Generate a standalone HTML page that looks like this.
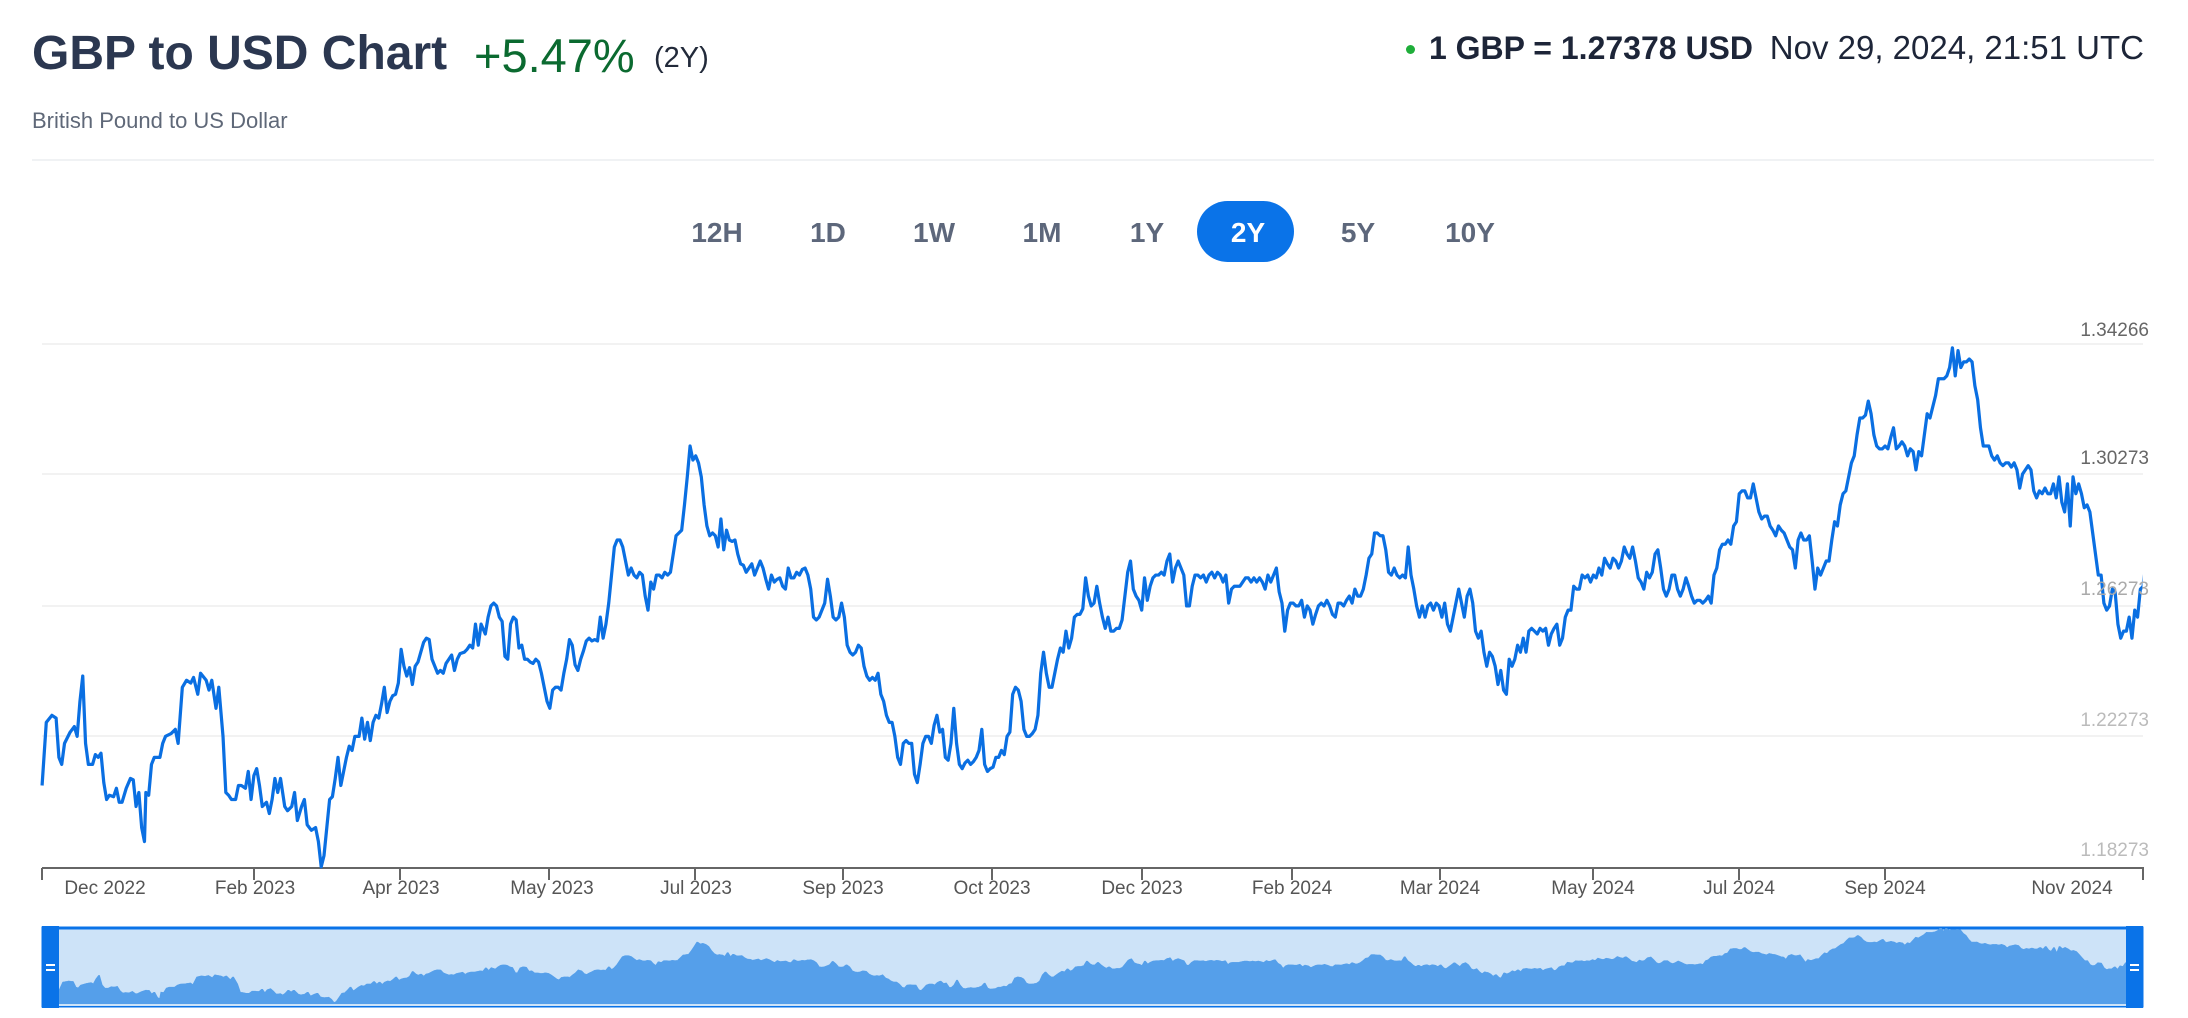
<!DOCTYPE html>
<html><head><meta charset="utf-8"><style>
html,body{margin:0;padding:0;background:#fff;overflow:hidden;}
body{width:2188px;height:1018px;position:relative;overflow:hidden;font-family:"Liberation Sans",sans-serif;}
.a{position:absolute;white-space:nowrap;}
.btn{position:absolute;top:233px;transform:translate(-50%,-50%);font-size:28px;font-weight:bold;color:#5d677b;}
.yl{position:absolute;right:39px;font-size:19px;transform:translateY(-50%);}
.ml{position:absolute;top:889px;transform:translate(-50%,-50%);font-size:19px;color:#555;white-space:nowrap;}
</style></head><body>
<div class="a" style="left:32px;top:26px;font-size:48px;font-weight:bold;color:#2b3750;">GBP to USD Chart</div>
<div class="a" style="left:474px;top:28px;font-size:47px;color:#0b6a30;">+5.47%</div>
<div class="a" style="left:654px;top:42px;font-size:29px;color:#222a3a;">(2Y)</div>
<div class="a" style="left:32px;top:108px;font-size:22px;color:#5f6878;">British Pound to US Dollar</div>
<div class="a" style="left:32px;top:159px;width:2122px;height:2px;background:#f0f2f4;"></div>
<div class="a" style="left:1406px;top:45px;width:9px;height:9px;border-radius:50%;background:#1fae3a;"></div>
<div class="a" style="right:435px;top:30px;font-size:32px;font-weight:bold;color:#1d2538;">1 GBP = 1.27378 USD</div>
<div class="a" style="right:44px;top:29px;font-size:33px;color:#1d2538;">Nov 29, 2024, 21:51 UTC</div>
<div class="btn" style="left:717px">12H</div>
<div class="btn" style="left:828px">1D</div>
<div class="btn" style="left:934px">1W</div>
<div class="btn" style="left:1042px">1M</div>
<div class="btn" style="left:1147px">1Y</div>
<div class="a" style="left:1197px;top:201px;width:97px;height:61px;border-radius:31px;background:#0a73e8;"></div>
<div class="btn" style="left:1248px;color:#fff;">2Y</div>
<div class="btn" style="left:1358px">5Y</div>
<div class="btn" style="left:1470px">10Y</div>

<svg class="a" style="left:0;top:0" width="2188" height="1018">
<g stroke="#f2f2f2" stroke-width="2">
<line x1="42" y1="344" x2="2143" y2="344"/><line x1="42" y1="474" x2="2143" y2="474"/>
<line x1="42" y1="606" x2="2143" y2="606"/><line x1="42" y1="736" x2="2143" y2="736"/>
</g>
<g stroke="#666" stroke-width="2" fill="none">
<line x1="42" y1="868" x2="2144" y2="868"/>
<line x1="42" y1="868" x2="42" y2="880"/><line x1="254" y1="868" x2="254" y2="880"/>
<line x1="400" y1="868" x2="400" y2="880"/><line x1="549" y1="868" x2="549" y2="880"/>
<line x1="695" y1="868" x2="695" y2="880"/><line x1="843" y1="868" x2="843" y2="880"/>
<line x1="992" y1="868" x2="992" y2="880"/><line x1="1142" y1="868" x2="1142" y2="880"/>
<line x1="1292" y1="868" x2="1292" y2="880"/><line x1="1440" y1="868" x2="1440" y2="880"/>
<line x1="1593" y1="868" x2="1593" y2="880"/><line x1="1739" y1="868" x2="1739" y2="880"/>
<line x1="1885" y1="868" x2="1885" y2="880"/><line x1="2143" y1="868" x2="2143" y2="880"/>
</g>
<defs>
<clipPath id="nc"><rect x="43" y="928" width="2099" height="78"/></clipPath>
<clipPath id="mc"><rect x="0" y="300" width="2142.5" height="569"/></clipPath>
<polyline id="pl" points="30,560 33,515 37,510 40,512 42,540 44,545 46,530 50,522 53,518 55,525 57,500 59,482 61,530 63,545 66,545 68,538 70,540 72,537 74,558 76,570 78,567 81,568 83,562 85,572 87,572 90,562 93,555 95,556 97,575 99,565 101,590 103,600 104,565 106,567 108,545 110,540 114,540 116,530 118,525 122,523 125,520 127,530 130,490 133,485 136,487 138,483 141,495 143,480 147,485 149,492 151,485 154,505 156,490 159,525 161,565 163,567 165,570 168,570 170,560 172,560 175,562 177,550 179,570 181,553 183,548 185,560 187,575 190,572 192,580 194,570 196,555 198,565 200,555 203,575 205,578 208,575 210,565 212,585 215,575 217,570 219,588 222,592 225,590 227,600 229,618 231,610 233,590 235,570 237,568 239,555 241,540 243,560 245,550 247,540 249,532 251,535 253,525 256,525 258,512 260,527 262,515 264,528 266,515 268,510 270,512 272,502 274,490 276,508 278,500 280,496 282,495 284,487 286,463 288,475 290,482 292,476 294,488 296,475 298,472 300,465 302,458 304,455 306,456 308,470 310,475 312,480 314,478 316,480 318,473 320,470 322,467 324,478 326,470 328,466 331,465 333,463 335,460 337,462 339,445 341,460 343,445 346,452 348,440 350,432 352,430 354,432 356,440 358,443 360,468 362,470 364,445 366,440 368,442 370,462 372,460 374,470 376,470 378,472 380,473 382,470 384,472 386,480 388,490 390,500 392,505 394,492 396,490 398,490 400,492 402,480 404,470 406,456 408,460 410,474 412,478 414,470 416,464 418,457 420,455 422,457 424,456 426,457 428,440 430,455 432,445 434,430 436,410 438,390 440,385 442,385 444,390 446,400 448,410 450,405 452,410 454,412 456,408 458,410 460,425 462,435 464,415 466,420 468,410 470,410 472,412 474,408 476,410 478,408 480,395 482,382 484,380 486,378 488,360 490,340 492,318 494,328 496,325 498,330 500,340 502,360 504,375 506,382 508,380 510,382 512,390 514,370 516,392 518,378 520,385 522,386 524,385 526,395 528,402 530,403 532,408 534,405 536,402 538,410 540,405 542,400 544,405 546,413 548,420 550,410 552,415 554,413 556,412 558,418 560,420 562,405 564,412 566,412 568,408 570,410 572,406 574,405 576,410 578,420 580,440 582,442 584,440 586,435 588,430 590,413 592,425 594,440 596,442 598,440 600,430 602,440 604,460 606,465 608,467 610,465 612,460 614,462 616,475 618,482 620,485 622,483 624,485 626,480 628,495 630,500 632,510 634,515 636,515 638,525 640,540 642,545 644,530 646,528 648,530 650,530 652,552 654,558 656,545 658,530 660,525 662,525 664,530 666,517 668,510 670,522 672,520 674,540 676,542 678,530 680,505 682,530 684,545 686,548 688,544 690,542 692,545 694,543 696,540 698,535 700,520 702,545 704,550 706,548 708,547 710,540 712,540 714,535 716,538 718,525 720,522 722,495 724,490 726,492 728,500 730,520 732,525 734,525 736,523 738,520 740,510 742,480 744,465 746,480 748,490 750,490 752,480 754,470 756,462 758,465 760,450 762,462 764,455 766,440 768,438 770,438 772,434 774,412 776,425 778,432 780,430 782,418 784,430 786,440 788,448 790,440 792,450 794,450 796,448 798,448 800,442 802,425 804,408 806,400 808,420 810,425 812,428 814,435 816,412 818,428 820,418 822,412 824,410 826,410 828,408 830,410 832,400 834,395 836,415 838,405 840,400 842,405 844,410 846,432 848,432 850,418 852,410 854,410 856,412 858,410 860,415 862,410 864,408 866,412 868,408 870,410 872,415 874,410 876,430 878,420 880,418 882,418 884,418 886,415 888,412 890,412 892,415 894,412 896,415 898,412 900,415 902,420 904,410 906,415 908,410 910,405 912,422 914,430 916,450 918,435 920,430 922,430 924,432 926,432 928,428 930,440 932,432 934,435 936,445 938,438 940,432 942,430 944,432 946,428 948,432 950,438 952,440 954,430 956,430 958,432 960,428 962,425 964,430 966,420 968,425 970,425 972,420 974,410 976,398 978,395 980,380 982,380 984,382 986,382 988,392 990,408 992,410 994,405 996,410 998,412 1000,410 1002,412 1004,390 1006,410 1008,420 1010,432 1012,440 1014,432 1016,440 1018,432 1020,430 1022,435 1024,430 1026,432 1028,440 1030,430 1032,445 1034,450 1036,440 1038,430 1040,420 1042,430 1044,440 1046,425 1048,420 1050,430 1052,450 1054,455 1056,450 1058,465 1060,475 1062,465 1064,468 1066,475 1068,488 1070,478 1072,492 1074,495 1076,470 1078,475 1080,470 1082,460 1084,465 1086,455 1088,465 1090,450 1092,448 1094,450 1096,452 1098,448 1100,450 1102,448 1104,460 1106,452 1108,448 1110,445 1112,460 1114,455 1116,440 1118,435 1120,435 1122,418 1124,420 1126,420 1128,410 1130,412 1132,410 1134,415 1136,410 1138,412 1140,405 1142,410 1144,398 1146,402 1148,405 1150,398 1152,400 1154,405 1156,400 1158,390 1160,395 1162,398 1164,390 1166,400 1168,412 1170,415 1172,420 1174,408 1176,412 1178,408 1180,395 1182,392 1184,405 1186,420 1188,425 1190,420 1192,410 1194,410 1196,420 1198,425 1200,420 1202,412 1204,418 1206,425 1208,430 1210,428 1212,428 1214,430 1216,428 1218,425 1220,430 1222,410 1224,405 1226,392 1228,388 1230,388 1232,385 1234,388 1236,375 1238,372 1240,352 1242,350 1244,350 1246,355 1248,355 1250,345 1252,355 1254,365 1256,370 1258,368 1260,368 1262,375 1264,378 1266,382 1268,375 1270,378 1272,380 1274,385 1276,390 1278,392 1280,405 1282,385 1284,380 1286,385 1288,385 1290,382 1292,400 1294,420 1296,405 1298,410 1300,405 1302,400 1304,400 1306,385 1308,372 1310,375 1312,360 1314,352 1316,350 1318,340 1320,330 1322,325 1324,310 1326,298 1328,298 1330,296 1332,286 1334,295 1336,310 1338,318 1340,320 1342,320 1344,318 1346,320 1348,312 1350,305 1352,320 1354,318 1356,315 1358,318 1360,325 1362,320 1364,322 1366,335 1368,322 1370,325 1372,310 1374,295 1376,298 1378,290 1380,282 1382,270 1384,270 1386,270 1388,268 1390,262 1392,248 1394,268 1396,250 1398,262 1400,258 1402,258 1404,256 1406,258 1408,275 1410,285 1412,305 1414,318 1416,318 1418,318 1420,325 1422,328 1424,325 1426,330 1428,332 1430,330 1432,330 1434,333 1436,330 1438,335 1440,348 1442,338 1444,335 1446,332 1448,335 1450,350 1452,355 1454,350 1456,352 1458,348 1460,352 1462,352 1464,345 1466,355 1468,340 1470,358 1472,365 1474,345 1476,375 1478,340 1480,352 1482,345 1484,352 1486,362 1488,360 1490,365 1492,380 1494,395 1496,410 1498,410 1500,430 1502,435 1504,432 1506,420 1508,422 1510,445 1512,455 1514,450 1516,450 1518,440 1520,455 1522,435 1524,440 1526,420 1528,418 1529,405 1529,640 30,640"/>
</defs>
<!-- navigator -->
<rect x="43" y="928" width="2099" height="78" fill="#cde3f8" stroke="#0a73e8" stroke-width="3"/>
<g clip-path="url(#nc)">
<g transform="translate(59,927) scale(1.3816,0.2032) translate(-30,-245)">
<use href="#pl" fill="#559fea" stroke="#559fea" stroke-width="1"/>
</g>
</g>
<line x1="59" y1="1005" x2="2126" y2="1005" stroke="#cde3f8" stroke-width="2"/>
<rect x="42" y="926" width="17" height="82" fill="#0a73e8"/>
<rect x="2126" y="926" width="17" height="82" fill="#0a73e8"/>
<g stroke="#fff" stroke-width="2"><line x1="46" y1="965" x2="55" y2="965"/><line x1="46" y1="970" x2="55" y2="970"/>
<line x1="2130" y1="965" x2="2139" y2="965"/><line x1="2130" y1="970" x2="2139" y2="970"/></g>
<!-- main line -->
<g clip-path="url(#mc)">
<g transform="scale(1.4026)">
<use href="#pl" fill="none" stroke="#0a6fe2" stroke-width="2.3" stroke-linejoin="round"/>
</g>
</g>
</svg>
<div class="yl" style="top:331px;color:#666;">1.34266</div>
<div class="yl" style="top:459px;color:#666;">1.30273</div>
<div class="yl" style="top:590px;color:#aaa;">1.26273</div>
<div class="yl" style="top:721px;color:#bbb;">1.22273</div>
<div class="yl" style="top:851px;color:#bbb;">1.18273</div>
<div class="ml" style="left:105px">Dec 2022</div>
<div class="ml" style="left:255px">Feb 2023</div>
<div class="ml" style="left:401px">Apr 2023</div>
<div class="ml" style="left:552px">May 2023</div>
<div class="ml" style="left:696px">Jul 2023</div>
<div class="ml" style="left:843px">Sep 2023</div>
<div class="ml" style="left:992px">Oct 2023</div>
<div class="ml" style="left:1142px">Dec 2023</div>
<div class="ml" style="left:1292px">Feb 2024</div>
<div class="ml" style="left:1440px">Mar 2024</div>
<div class="ml" style="left:1593px">May 2024</div>
<div class="ml" style="left:1739px">Jul 2024</div>
<div class="ml" style="left:1885px">Sep 2024</div>
<div class="ml" style="left:2072px">Nov 2024</div>
</body></html>
